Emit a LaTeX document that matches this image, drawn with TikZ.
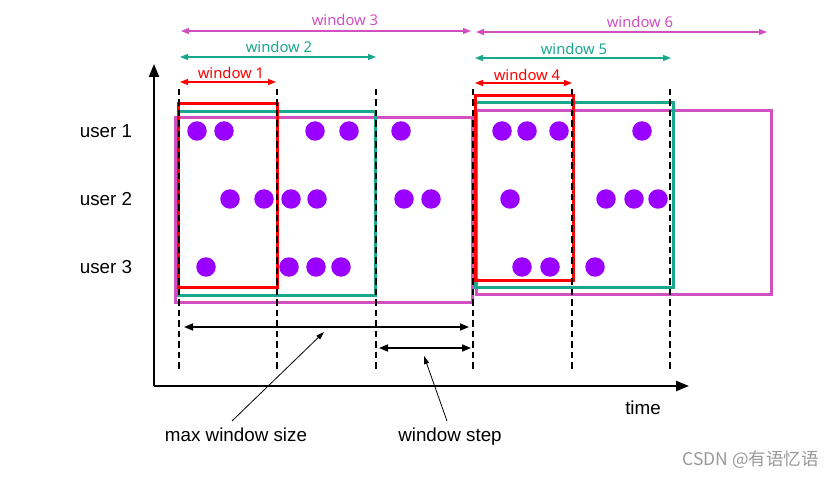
\documentclass[tikz,border=0pt]{standalone}
\usepackage{fontspec}
\setmainfont{Liberation Sans}
\newfontfamily\labfont{Noto Sans}
\newfontfamily\cjkfont{Noto Sans CJK SC}
\usetikzlibrary{arrows.meta}
\definecolor{wred}{RGB}{255,0,0}
\definecolor{wteal}{RGB}{26,168,140}
\definecolor{wmag}{RGB}{208,80,192}
\definecolor{dotc}{RGB}{153,0,255}
\tikzset{
  dotn/.style={circle,fill=dotc,draw=none,minimum size=19.5pt,inner sep=0pt},
  winbox/.style={line width=3pt},
  tick/.style={black,line width=1.8pt,dash pattern=on 6.5pt off 4pt},
  winarrow/.style={line width=1.3pt,{Triangle[length=8pt,width=6pt]}-{Triangle[length=8pt,width=6pt]}},
  blkarrow/.style={black,line width=1.6pt,{Triangle[length=9pt,width=7pt]}-{Triangle[length=9pt,width=7pt]}},
  pointer/.style={black,line width=0.8pt,-{Triangle[length=8pt,width=5pt]}},
  axis/.style={black,line width=2.2pt,-{Triangle[length=13pt,width=10pt]}},
  wlab/.style={font=\labfont\fontsize{14.8}{16}\selectfont,inner sep=0pt},
  blab/.style={font=\fontsize{18.8}{21}\selectfont,inner sep=0pt,text=black},
}
\begin{document}
\begin{tikzpicture}[x=1pt,y=-1pt]
\useasboundingbox (0,0) rectangle (834,478);
% axes
\coordinate (origin) at (154,386);
\coordinate (ytop) at (154,64);
\coordinate (xend) at (689,386);
\draw[axis] (origin) -- (ytop);
\draw[axis] (origin) -- (xend);
% window boxes
\draw[winbox,wmag] (175,118) rectangle (472,302);
\draw[winbox,wteal] (178,112) rectangle (375,295);
\draw[winbox,wred] (178,104) rectangle (277,287);
\draw[winbox,wmag] (476,111) rectangle (771,294);
\draw[winbox,wteal] (475,103) rectangle (673,287);
\draw[winbox,wred] (475,96) rectangle (573,280);
% dashed ticks
\foreach \n/\x in {t1/179,t2/277,t3/376,t4/473,t5/572,t6/670}{
  \coordinate (\n a) at (\x,89);
  \coordinate (\n b) at (\x,370);
  \draw[tick] (\n a) -- (\n b);
}
% user labels
\node[blab] (u1) at (106,131) {user 1};
\node[blab] (u2) at (106,199) {user 2};
\node[blab] (u3) at (106,267) {user 3};
% dots
\foreach \x [count=\i] in {197,224,315,349,401,502,527,559,642}{
  \node[dotn] (da\i) at (\x,131) {};
}
\foreach \x [count=\i] in {230,264,291,317,404,431,510,606,634,658}{
  \node[dotn] (db\i) at (\x,199) {};
}
\foreach \x [count=\i] in {206,289,316,341,522,550,595}{
  \node[dotn] (dc\i) at (\x,267) {};
}
% top window arrows
\coordinate (w3l) at (181,31); \coordinate (w3r) at (471,31);
\coordinate (w2l) at (180,57); \coordinate (w2r) at (376,57);
\coordinate (w1l) at (180,82); \coordinate (w1r) at (276,82);
\coordinate (w6l) at (476,32); \coordinate (w6r) at (767,32);
\coordinate (w5l) at (475,58); \coordinate (w5r) at (671,58);
\coordinate (w4l) at (475,83); \coordinate (w4r) at (572,83);
\draw[winarrow,wmag] (w3l) -- (w3r);
\draw[winarrow,wteal] (w2l) -- (w2r);
\draw[winarrow,wred] (w1l) -- (w1r);
\draw[winarrow,wmag] (w6l) -- (w6r);
\draw[winarrow,wteal] (w5l) -- (w5r);
\draw[winarrow,wred] (w4l) -- (w4r);
\node[wlab,text=wmag] (l3) at (345,20) {window 3};
\node[wlab,text=wteal] (l2) at (279,47) {window 2};
\node[wlab,text=wred] (l1) at (231,73) {window 1};
\node[wlab,text=wmag] (l6) at (640,22) {window 6};
\node[wlab,text=wteal] (l5) at (574,49) {window 5};
\node[wlab,text=wred] (l4) at (527,75) {window 4};
% bottom measure arrows
\coordinate (msl) at (184,327); \coordinate (msr) at (469,327);
\coordinate (wsl) at (379,348); \coordinate (wsr) at (471,348);
\draw[blkarrow] (msl) -- (msr);
\draw[blkarrow] (wsl) -- (wsr);
\node[blab] (mws) at (236,435) {max window size};
\node[blab] (wst) at (450,437) {window step};
\node[blab] (time) at (643,408) {time};
\coordinate (p1s) at (232,421); \coordinate (p1e) at (324,332);
\coordinate (p2s) at (447,421); \coordinate (p2e) at (424,356);
\draw[pointer] (p1s) -- (p1e);
\draw[pointer] (p2s) -- (p2e);
% watermark
\node[font=\cjkfont\fontsize{17.5}{19}\selectfont,text=black!40,anchor=east,inner sep=0pt] (wm) at (819,460) {CSDN @有语忆语};
\end{tikzpicture}
\end{document}
